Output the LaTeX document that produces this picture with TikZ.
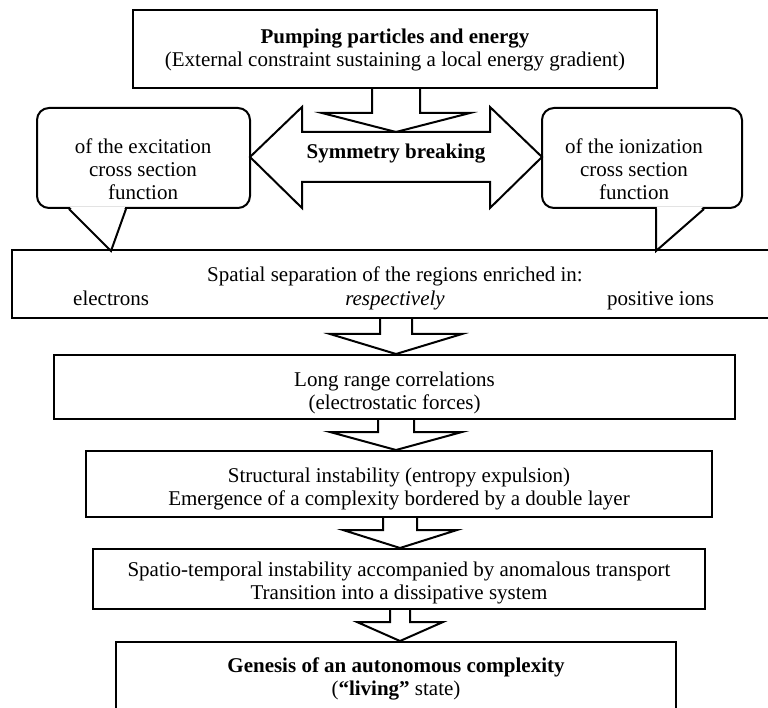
\documentclass[tikz,border=0pt]{standalone}
\usepackage{fontspec}
\setmainfont{Liberation Serif}
\usetikzlibrary{calc,positioning}
% block arrow: from, to, axis x, shaft half width, head half width, head length
\newcommand{\blockarrow}[6]{%
  \draw[blk] let \p1=(#1), \p2=(#2) in
    (#3pt-#4pt,\y1) -- (#3pt-#4pt,\y2+#6pt) -- (#3pt-#5pt,\y2+#6pt) -- (#3pt,\y2)
    -- (#3pt+#5pt,\y2+#6pt) -- (#3pt+#4pt,\y2+#6pt) -- (#3pt+#4pt,\y1);}
% taller first line, pushes the text of a box a little down
\newcommand{\textdrop}[1]{\rule{0pt}{#1pt}}

\begin{document}
\begin{tikzpicture}[
  x=1pt, y=-1pt,
  font=\fontsize{21}{23}\selectfont,
  box/.style={draw, line width=2pt, align=center, inner sep=0pt},
  callout/.style={draw, line width=2pt, rounded corners=12pt, inner sep=0pt},
  blk/.style={line width=2pt, line join=miter},
  txt/.style={align=center, inner sep=0pt}
]
\useasboundingbox (0,0) rectangle (768,708);

% ---- pumping ----
\node[box, minimum width=524pt, minimum height=78pt] (pump) at (395,49)
  {\textdrop{17}\textbf{Pumping particles and energy}\\(External constraint sustaining a local energy gradient)};

% ---- symmetry breaking ----
\draw[blk] (250,157) -- (302,107) -- (302,132) -- (490,132) -- (490,107) -- (542,157)
  -- (490,208) -- (490,182) -- (302,182) -- (302,208) -- cycle;
\node[txt] (sym) at (396,154) {\textbf{Symmetry breaking}};
\coordinate (symtop) at (395,132);
\blockarrow{pump.south}{symtop}{396}{24}{74}{19}

% ---- cross sections ----
\node[callout, minimum width=213pt, minimum height=100pt] (exc) at (143.5,158) {};
\node[txt] (exctxt) at (143,169) {of the excitation\\cross section\\function};
\node[callout, minimum width=200pt, minimum height=100pt] (ion) at (642,158) {};
\node[txt] (iontxt) at (634,169) {of the ionization\\cross section\\function};

% ---- chain of boxes ----
\node[box, minimum width=778pt, minimum height=68pt] (sep) at (401,284) {};
\node[anchor=base, inner sep=0pt] (septxt) at (395,282) {Spatial separation of the regions enriched in:};
\node[anchor=base west, inner sep=0pt] (elec) at (73,306) {electrons};
\node[anchor=base, inner sep=0pt] (resp) at (395,306) {\textit{respectively}};
\node[anchor=base west, inner sep=0pt] (ions) at (607,306) {positive ions};

\node[box, minimum width=681pt, minimum height=64pt] (long) at (394.5,387)
  {\textdrop{27}Long range correlations\\(electrostatic forces)};
\node[box, minimum width=626pt, minimum height=66pt] (struct) at (399,484)
  {\textdrop{25}Structural instability (entropy expulsion)\\Emergence of a complexity bordered by a double layer};
\node[box, minimum width=612pt, minimum height=60pt] (spatio) at (399,579)
  {\textdrop{23}Spatio-temporal instability accompanied by anomalous transport\\Transition into a dissipative system};
\node[box, minimum width=560pt, minimum height=70pt] (gen) at (396,677)
  {\textdrop{19}\textbf{Genesis of an autonomous complexity}\\(\textbf{“living”} state)};

% pointers of the callouts
\fill[white] ($(exc.south west)+(34,-2)$) -- ($(exc.south west)+(75,42)$) -- ($(exc.south west)+(89,-2)$) -- cycle;
\draw[blk] ($(exc.south west)+(33,0)$) -- ($(exc.south west)+(75,42)$) -- ($(exc.south west)+(90,0)$);
\fill[white] ($(ion.south west)+(116,-2)$) -- ($(ion.south west)+(115,42)$) -- ($(ion.south west)+(162,-2)$) -- cycle;
\draw[blk] ($(ion.south west)+(115,0)$) -- ($(ion.south west)+(115,42)$) -- ($(ion.south west)+(163,0)$);

% arrows
\blockarrow{sep.south}{long.north}{396}{16}{66}{20}
\blockarrow{long.south}{struct.north}{396}{18}{66}{18}
\blockarrow{struct.south}{spatio.north}{400}{17}{57}{18}
\blockarrow{spatio.south}{gen.north}{400}{10}{43}{19}
\end{tikzpicture}
\end{document}
